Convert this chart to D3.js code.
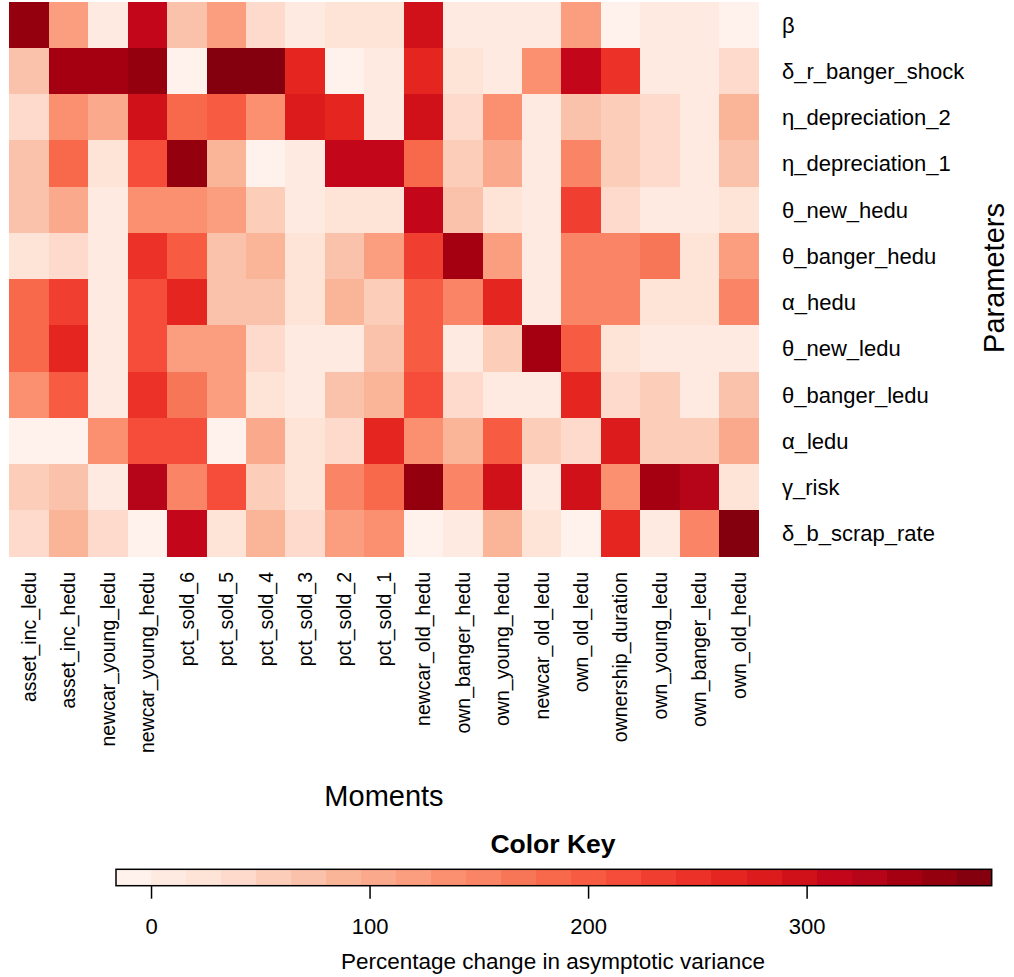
<!DOCTYPE html>
<html>
<head>
<meta charset="utf-8">
<script src="https://cdn.jsdelivr.net/npm/d3@7"></script>
<style>
  html, body { margin: 0; padding: 0; background: #fff; }
  svg { display: block; }
  text { font-family: "Liberation Sans", Arial, Helvetica, sans-serif; fill: #000; }
</style>
</head>
<body>
<svg id="chart" width="1014" height="977"></svg>
<script>
// ---------------- data ----------------
const moments = ["asset_inc_ledu","asset_inc_hedu","newcar_young_ledu","newcar_young_hedu",
  "pct_sold_6","pct_sold_5","pct_sold_4","pct_sold_3","pct_sold_2","pct_sold_1",
  "newcar_old_hedu","own_banger_hedu","own_young_hedu","newcar_old_ledu","own_old_ledu",
  "ownership_duration","own_young_ledu","own_banger_ledu","own_old_hedu"];

const parameters = ["β","δ_r_banger_shock","η_depreciation_2","η_depreciation_1","θ_new_hedu",
  "θ_banger_hedu","α_hedu","θ_new_ledu","θ_banger_ledu","α_ledu","γ_risk","δ_b_scrap_rate"];

// percentage change in asymptotic variance (rows = parameters, cols = moments)
const v_beta            = [361,120,  8,313, 72,120, 40,  8, 24, 24,297,  8,  8,  8,120, -8,  8,  8, -8];
const v_r_banger_shock  = [ 72,345,345,361, -8,377,377,265, -8,  8,265, 24,  8,136,313,249,  8,  8, 40];
const v_depreciation_2  = [ 40,136,104,297,184,200,136,281,265,  8,297, 40,136,  8, 72, 56, 40,  8, 88];
const v_depreciation_1  = [ 72,184, 24,216,361, 88, -8,  8,313,313,184, 56,104,  8,152, 56, 40,  8, 72];
const v_new_hedu        = [ 72,104,  8,136,136,120, 56,  8, 24, 24,313, 72, 24,  8,232, 40,  8,  8, 24];
const v_banger_hedu     = [ 24, 40,  8,249,200, 72, 88, 24, 72,120,232,345,120,  8,152,152,168, 24,120];
const v_alpha_hedu      = [184,232,  8,216,265, 72, 72, 24, 88, 56,200,152,265,  8,152,152, 24, 24,152];
const v_new_ledu        = [184,265,  8,216,120,120, 40,  8,  8, 72,200,  8, 56,345,200, 24,  8,  8,  8];
const v_banger_ledu     = [136,200,  8,249,168,120, 24,  8, 72, 88,216, 40,  8,  8,265, 40, 56,  8, 72];
const v_alpha_ledu      = [ -8, -8,136,216,216, -8,104, 24, 40,265,136, 88,200, 56, 40,281, 56, 56,104];
const v_gamma_risk      = [ 56, 72,  8,329,152,216, 56, 24,152,184,361,152,297,  8,297,136,345,329, 24];
const v_b_scrap_rate    = [ 40, 88, 40, -8,313, 24, 88, 40,120,136, -8,  8, 88, 24, -8,265,  8,152,377];

const valueRows = [v_beta, v_r_banger_shock, v_depreciation_2, v_depreciation_1, v_new_hedu,
  v_banger_hedu, v_alpha_hedu, v_new_ledu, v_banger_ledu, v_alpha_ledu, v_gamma_risk, v_b_scrap_rate];

const keyDomain = [-16.03, 384.7];
const keyTicks = [0, 100, 200, 300];

// ---------------- styles ----------------
const palette = ["#FFF2EC","#FEEAE0","#FEE3D7","#FDDACC","#FCCDB9","#FBC2AB","#FAB599","#FAA98D",
  "#FB9D7F","#FB9070","#FA8466","#F87658","#F8684A","#F75B42","#F64D3A","#F03F30","#EC3228",
  "#E52620","#DC1C1C","#D0111A","#C4061A","#B60418","#A50012","#95000F","#85000F"];

const svg = d3.select("#chart");

const color = d3.scaleQuantize().domain(keyDomain).range(palette);

const x = d3.scaleBand().domain(moments).range([9.3, 758.7]).padding(0);
const y = d3.scaleBand().domain(parameters).range([1.7, 556.7]).padding(0);

const cells = [];
parameters.forEach((p, i) => moments.forEach((m, j) => cells.push({p, m, v: valueRows[i][j]})));

svg.append("g").selectAll("rect").data(cells).join("rect")
  .attr("x", d => x(d.m))
  .attr("y", d => y(d.p))
  .attr("width", x.bandwidth() + 0.5)
  .attr("height", y.bandwidth() + 0.5)
  .attr("fill", d => color(d.v))
  .attr("shape-rendering", "crispEdges");

// row labels
svg.append("g").selectAll("text").data(parameters).join("text")
  .attr("x", 782)
  .attr("y", d => y(d) + y.bandwidth() / 2)
  .attr("dy", "0.35em")
  .style("font-size", "22px")
  .text(d => d);

// column labels
svg.append("g").selectAll("text").data(moments).join("text")
  .attr("transform", d => `translate(${x(d) + x.bandwidth() / 2},572) rotate(-90)`)
  .attr("dy", "0.35em")
  .attr("text-anchor", "end")
  .style("font-size", "19.5px")
  .text(d => d);

// axis titles
svg.append("text")
  .attr("x", 384).attr("y", 806)
  .attr("text-anchor", "middle")
  .style("font-size", "29px")
  .text("Moments");

svg.append("text")
  .attr("transform", "translate(1004,278) rotate(-90)")
  .attr("text-anchor", "middle")
  .style("font-size", "29px")
  .text("Parameters");

// ---------------- color key ----------------
const kx = d3.scaleLinear().domain(keyDomain).range([116, 991.7]);
const keyTop = 869.3, keyBottom = 885.7;

const bins = palette.map(c => {
  const [a, b] = color.invertExtent(c);
  return {c, a, b};
});

svg.append("g").selectAll("rect").data(bins).join("rect")
  .attr("x", d => kx(d.a))
  .attr("y", keyTop)
  .attr("width", d => kx(d.b) - kx(d.a) + 0.5)
  .attr("height", keyBottom - keyTop)
  .attr("fill", d => d.c)
  .attr("shape-rendering", "crispEdges");

svg.append("rect")
  .attr("x", kx(keyDomain[0])).attr("y", keyTop)
  .attr("width", kx(keyDomain[1]) - kx(keyDomain[0]))
  .attr("height", keyBottom - keyTop)
  .attr("fill", "none").attr("stroke", "#000").attr("stroke-width", 1.5);

const axis = d3.axisBottom(kx).tickValues(keyTicks).tickSize(13).tickPadding(20).tickFormat(d3.format("d"));
const ag = svg.append("g").attr("transform", `translate(0,${keyBottom})`).call(axis);
ag.select(".domain").remove();
ag.selectAll(".tick line").attr("stroke", "#000").attr("stroke-width", 1.5);
ag.selectAll(".tick text").style("font-size", "22px").attr("font-family", null).attr("fill", "#000");

svg.append("text")
  .attr("x", 553).attr("y", 853)
  .attr("text-anchor", "middle")
  .style("font-size", "26.5px").style("font-weight", "bold")
  .text("Color Key");

svg.append("text")
  .attr("x", 553).attr("y", 969)
  .attr("text-anchor", "middle")
  .style("font-size", "22.5px")
  .text("Percentage change in asymptotic variance");
</script>
</body>
</html>
